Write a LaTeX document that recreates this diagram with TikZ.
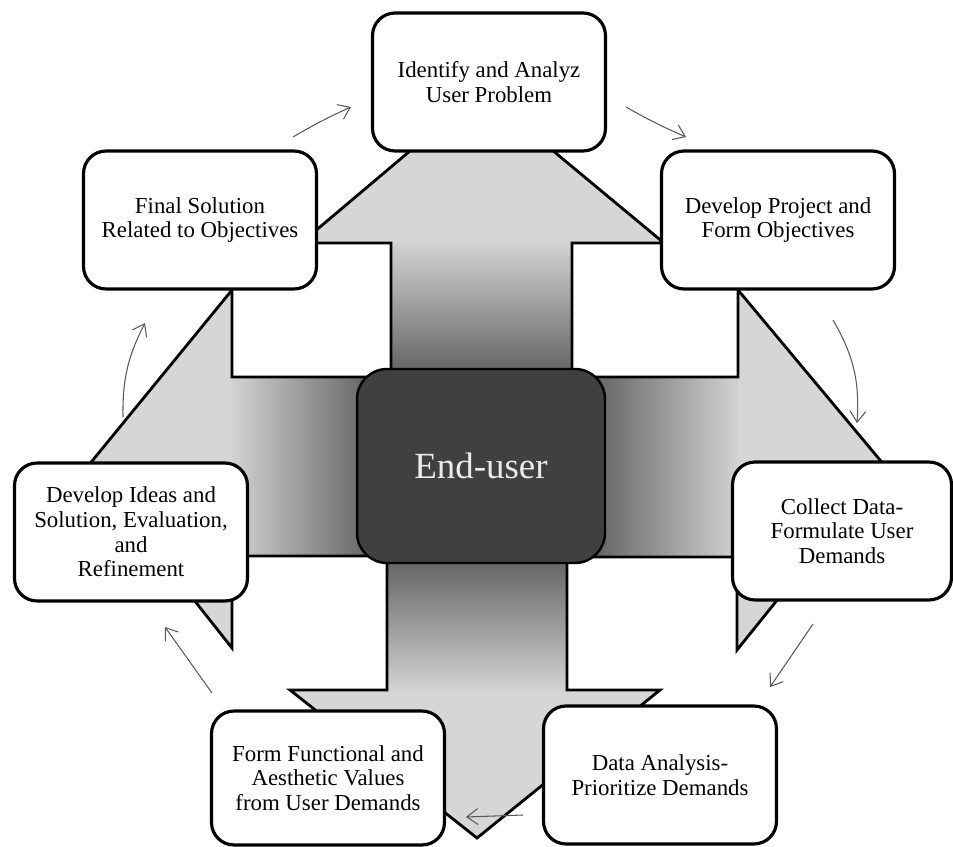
\documentclass[tikz,border=0pt]{standalone}
\usepackage{fontspec}
\setmainfont{Liberation Serif}
\usetikzlibrary{arrows.meta}

\begin{document}
\begin{tikzpicture}[x=0.02cm,y=-0.02cm,
  stage/.style={draw,line width=1.8pt,rounded corners=0.45cm,fill=white,align=center,
                font=\fontsize{13}{14}\selectfont,minimum width=4.66cm,minimum height=2.76cm,inner sep=2pt},
  hub/.style={draw,line width=1.4pt,rounded corners=0.6cm,fill=black!75,text=white!92!black,
              font=\fontsize{21}{25}\selectfont,minimum width=4.96cm,minimum height=3.88cm},
  flow/.style={-{Straight Barb[length=2.2mm,width=3.2mm]},draw=black!65,line width=0.6pt},
  shaft/.style={line width=1.6pt,line join=miter}]
  \useasboundingbox (0,0) rectangle (953,847);
  % four-way arrow behind the boxes
  \path[save path=\crossline] (481,91) -- (664,243) -- (572,243) -- (572,377) -- (738,377) -- (738,290)
    -- (885,466) -- (737,650) -- (737,557) -- (567,557) -- (567,690) -- (660,690) -- (477,838)
    -- (290,690) -- (387,690) -- (387,556) -- (232,556) -- (232,648) -- (88,466) -- (232,290)
    -- (232,377) -- (391,377) -- (391,243) -- (301,243) -- cycle;
  \path[use path=\crossline,fill=gray!32];
  \begin{scope}
    \clip[use path=\crossline];
    \shade[top color=gray!35,bottom color=black!92] (391,243) rectangle (572,466);
    \shade[top color=black!92,bottom color=gray!35] (387,466) rectangle (567,690);
    \shade[left color=gray!35,right color=black!95] (232,377) rectangle (481,556);
    \shade[left color=black!95,right color=gray!35] (481,377) rectangle (738,557);
  \end{scope}
  \path[use path=\crossline,draw,shaft];
  % stages
  \node[stage] (idn) at (489,82) {Identify and Analyz\\User Problem};
  \node[stage] (fin) at (200,220) {Final Solution\\Related to Objectives};
  \node[stage] (dev) at (778,220) {Develop Project and\\Form Objectives};
  \node[stage] (ide) at (131,532) {Develop Ideas and\\Solution, Evaluation,\\and\\Refinement};
  \node[stage,minimum width=4.38cm] (col) at (842,531) {Collect Data-\\Formulate User\\Demands};
  \node[stage,minimum height=2.68cm] (frm) at (328,778) {Form Functional and\\Aesthetic Values\\from User Demands};
  \node[stage] (dat) at (660,775) {Data Analysis-\\Prioritize Demands};
  \node[hub] (usr) at (481,466) {End-user};
  % cycle arrows
  \coordinate (p1s) at (293,137); \coordinate (p1e) at (351,107);
  \coordinate (p2s) at (626,107); \coordinate (p2e) at (686,137);
  \coordinate (p3s) at (833,320); \coordinate (p3e) at (857,423);
  \coordinate (p4s) at (813,624); \coordinate (p4e) at (770,687);
  \coordinate (p5s) at (523,815); \coordinate (p5e) at (466,817);
  \coordinate (p6s) at (212,693); \coordinate (p6e) at (165,627);
  \coordinate (p7s) at (123,417); \coordinate (p7e) at (145,323);
  \foreach \n/\b in {p1/3,p2/-3,p3/17,p4/0,p5/0,p6/0,p7/14}
    \draw[flow] (\n s) to[bend left=\b] (\n e);
\end{tikzpicture}
\end{document}
